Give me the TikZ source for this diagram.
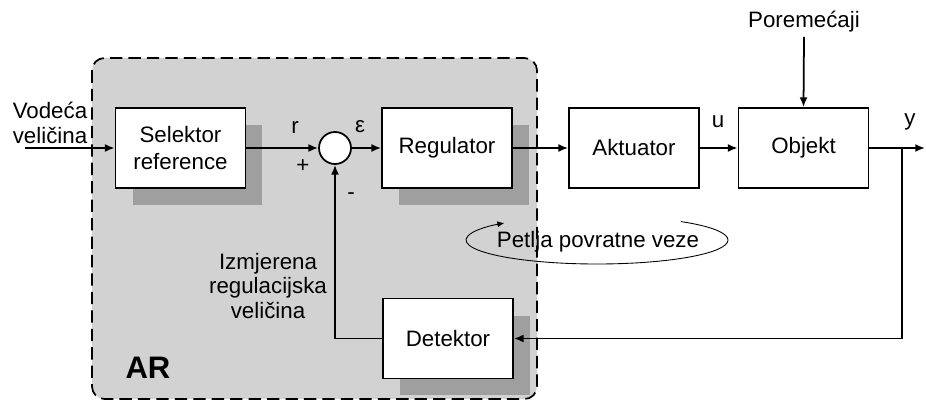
\documentclass[tikz,border=0pt]{standalone}
\usepackage{fontspec}
\setmainfont{Liberation Sans}
\usetikzlibrary{shadows,arrows.meta}

\begin{document}
\begin{tikzpicture}[x=0.02cm,y=0.02cm,>={Latex[length=5.5pt,width=4.5pt]},
    blok/.style={draw,line width=1pt,fill=white,align=center,minimum width=2.6cm,minimum height=1.6cm,inner sep=0pt,font=\fontsize{12.7}{15}\selectfont},
    sjena/.style={drop shadow={shadow xshift=0.34cm,shadow yshift=-0.34cm,fill=gray!75,opacity=1}},
    oznaka/.style={font=\fontsize{12.7}{14}\selectfont,align=center,inner sep=0pt},
    tok/.style={->,line width=1pt}]
    \useasboundingbox (0,0) rectangle (926,-402);
    % podrucje automatskog regulatora
    \draw[line width=1pt,dash pattern=on 7pt off 3.5pt,rounded corners=0.25cm,fill=gray!35] (92,-58) rectangle (537,-399);
    \node[font=\fontsize{17.7}{20}\selectfont\bfseries] (ar) at (148,-368) {AR};
    % blokovi
    \node[blok,sjena] (sel) at (180.5,-148) {Selektor\\reference};
    \node[draw,circle,line width=1pt,fill=white,minimum size=0.64cm,inner sep=0pt] (sum) at (335,-148) {};
    \node[blok,sjena] (reg) at (447,-148) {Regulator};
    \node[blok] (akt) at (634,-148) {Aktuator};
    \node[blok] (obj) at (803.5,-148) {Objekt};
    \node[blok,sjena] (det) at (448,-338.5) {Detektor};
    % oznake
    \node[oznaka] (ulaz) at (50,-123) {Vodeća\\veličina};
    \node[oznaka] (por) at (804,-22) {Poremećaji};
    \node[oznaka] (r) at (295,-127) {r};
    \node[oznaka] (eps) at (360,-127) {ε};
    \node[oznaka] (plus) at (303,-166) {+};
    \node[oznaka] (minus) at (351,-196) {-};
    \node[oznaka] (u) at (718,-122) {u};
    \node[oznaka] (y) at (910,-122) {y};
    \node[oznaka] (izm) at (268,-286) {Izmjerena\\regulacijska\\veličina};
    \node[oznaka] (petlja) at (598,-242) {Petlja povratne veze};
    \coordinate (ulazpoc) at (25,-148);
    \coordinate (izlaz) at (925,-148);
    \coordinate (grana) at (902,-148);
    % veze
    \draw[tok] (ulazpoc) -- (sel);
    \draw[tok] (sel) -- (sum);
    \draw[tok] (sum) -- (reg);
    \draw[tok] (reg) -- (akt);
    \draw[tok] (akt) -- (obj);
    \draw[tok] (obj) -- (izlaz);
    \draw[tok] (por.south) ++(0,-4) -- (obj.north);
    \draw[tok] (grana) |- (det.east);
    \draw[tok] (det.west) -| (sum.south);
    % petlja
    \draw[-{Latex[length=4pt,width=3.5pt]},line width=0.5pt] (597,-240) ++(50:131 and 24) arc[start angle=50,end angle=-225,x radius=131,y radius=24];
  \end{tikzpicture}
\end{document}
